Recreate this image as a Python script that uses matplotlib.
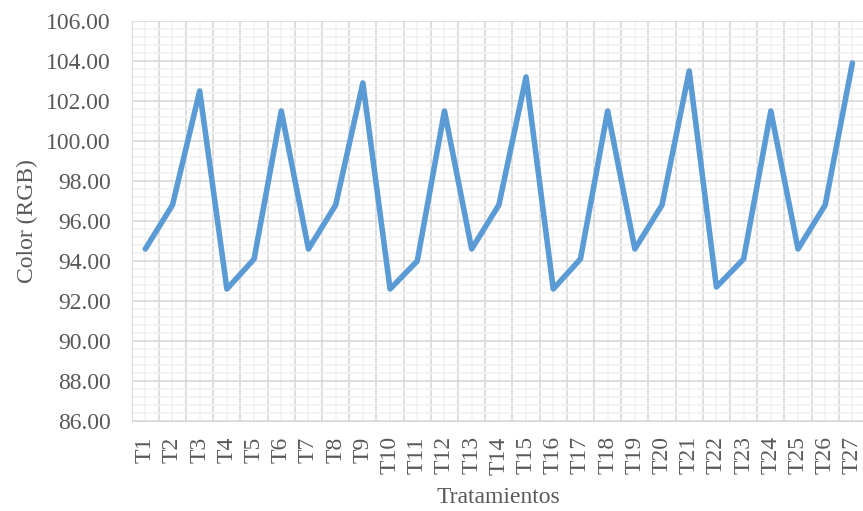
import matplotlib.pyplot as plt
import numpy as np

labels = ["T%d" % i for i in range(1, 28)]
color_rgb = [94.6, 96.8, 102.5, 92.6, 94.1, 101.5, 94.6, 96.8, 102.9,
             92.6, 94.0, 101.5, 94.6, 96.8, 103.2, 92.6, 94.1, 101.5,
             94.6, 96.8, 103.5, 92.7, 94.1, 101.5, 94.6, 96.8, 103.9]

plt.rcParams['font.family'] = ['Liberation Serif', 'DejaVu Serif']

fig = plt.figure(figsize=(8.63, 5.11), dpi=100)
ax = fig.add_axes([131.7 / 863, 90 / 511, (866 - 131.7) / 863, 400 / 511])

x = np.arange(1, len(labels) + 1)
ax.plot(x, color_rgb, color='#5B9BD5', lw=4, solid_capstyle='round',
        solid_joinstyle='round', zorder=3)

ax.set_xlim(0.5, len(labels) + 0.5)
ax.set_ylim(86, 106)

ax.set_xticks(x)
ax.set_xticklabels(labels, rotation=90, fontsize=17, color='#595959')
ax.set_xticks(np.arange(0.5, len(labels) + 1), minor=True)
ax.set_yticks(np.arange(86, 106.1, 2))
ax.set_yticklabels(["%.2f" % v for v in np.arange(86, 106.1, 2)], fontsize=17, color='#595959')
ax.set_yticks(np.arange(86, 106.01, 0.4), minor=True)

ax.tick_params(which='both', length=0)
ax.tick_params(axis='x', pad=11)
ax.tick_params(axis='y', pad=15)

ax.grid(axis='x', which='major', color='#F2F2F2', lw=1.2)
ax.grid(axis='x', which='minor', color='#D9D9D9', lw=1.2)
ax.grid(axis='y', which='major', color='#D9D9D9', lw=1.2)
ax.grid(axis='y', which='minor', color='#F2F2F2', lw=1.2)
ax.set_axisbelow(True)

for s in ax.spines.values():
    s.set_visible(False)
ax.spines['left'].set_visible(True)
ax.spines['left'].set_color('#D9D9D9')
ax.spines['bottom'].set_visible(True)
ax.spines['bottom'].set_color('#D9D9D9')

ax.set_xlabel("Tratamientos", fontsize=17, color='#595959', labelpad=9)
ax.set_ylabel("Color (RGB)", fontsize=17, color='#595959', labelpad=6)

fig.savefig("out.png", dpi=100)
